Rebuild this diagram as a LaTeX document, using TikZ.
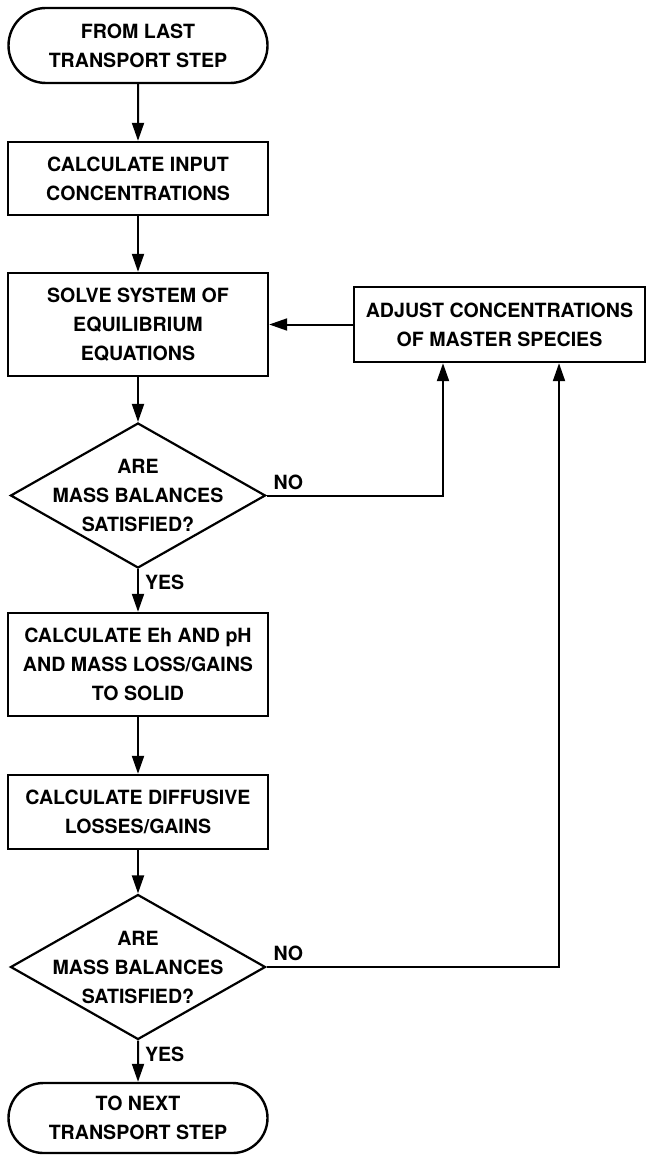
\documentclass[tikz,border=0pt]{standalone}
\usepackage{fontspec}
\setmainfont{TeX Gyre Heros}
\usepackage{tikz}
\usetikzlibrary{arrows.meta,shapes,positioning}
\tikzstyle{terminal} = [draw, rounded rectangle, line width=1.2pt, inner sep=0pt,
    minimum width=129.5pt, minimum height=37.5pt, align=center,
    font=\bfseries\fontsize{9.8}{14.5}\selectfont]
\tikzstyle{block} = [draw, rectangle, line width=1.2pt, inner sep=0pt,
    minimum width=130pt, align=center,
    font=\bfseries\fontsize{9.8}{14.5}\selectfont]
\tikzstyle{decision} = [draw, diamond, line width=1.1pt, inner xsep=-20pt,
    inner ysep=-12pt, minimum width=127.5pt, minimum height=72.5pt,
    align=center, font=\bfseries\fontsize{9.8}{14.5}\selectfont]
\tikzstyle{flow} = [draw, line width=1pt, -{Triangle[length=9pt,width=6pt]}]
\tikzstyle{answer} = [inner sep=1pt, font=\bfseries\fontsize{9.8}{12}\selectfont]

\begin{document}
\begin{tikzpicture}[node distance = 73pt, auto, x=1pt, y=1pt]
  \useasboundingbox [fill=white] (0,0) rectangle (323.5,-577.5);
  % Place nodes
  \node [terminal] (t1) at (69,-22.75) {FROM LAST\\TRANSPORT STEP};
  \node [block, node distance = 66.5pt, below of=t1, minimum height=36.5pt] (b1) {CALCULATE INPUT\\CONCENTRATIONS};
  \node [block, node distance = 73pt, below of=b1, minimum height=51.5pt] (b2) {SOLVE SYSTEM OF\\EQUILIBRIUM\\EQUATIONS};
  \node [block, node distance = 180.75pt, right of=b2, minimum width=145.5pt, minimum height=37.5pt] (adj) {ADJUST CONCENTRATIONS\\OF MASTER SPECIES};
  \node [decision, node distance = 85.5pt, below of=b2] (d1) {ARE\\MASS BALANCES\\SATISFIED?};
  \node [block, node distance = 84.5pt, below of=d1, minimum height=51.5pt] (b3) {CALCULATE Eh AND pH\\AND MASS LOSS/GAINS\\TO SOLID};
  \node [block, node distance = 73.75pt, below of=b3, minimum height=37pt] (b4) {CALCULATE DIFFUSIVE\\LOSSES/GAINS};
  \node [decision, node distance = 77.5pt, below of=b4] (d2) {ARE\\MASS BALANCES\\SATISFIED?};
  \node [terminal, node distance = 75.5pt, below of=d2, minimum height=35pt] (t2) {TO NEXT\\TRANSPORT STEP};
  % Draw edges
  \draw [flow] (t1) -- (b1);
  \draw [flow] (b1) -- (b2);
  \draw [flow] (b2) -- (d1);
  \draw [flow] (adj) -- (b2);
  \draw [flow] (d1.east) -| node [answer, pos=0, anchor=south west, xshift=2pt, yshift=1.5pt] {NO} ([xshift=-28.25pt]adj.south);
  \draw [flow] (d1) -- node [answer, pos=0, anchor=north west, xshift=2pt, yshift=-1.5pt] {YES} (b3);
  \draw [flow] (b3) -- (b4);
  \draw [flow] (b4) -- (d2);
  \draw [flow] (d2.east) -| node [answer, pos=0, anchor=south west, xshift=2pt, yshift=1.5pt] {NO} ([xshift=29.75pt]adj.south);
  \draw [flow] (d2) -- node [answer, pos=0, anchor=north west, xshift=2pt, yshift=-1.5pt] {YES} (t2);
\end{tikzpicture}
\end{document}
